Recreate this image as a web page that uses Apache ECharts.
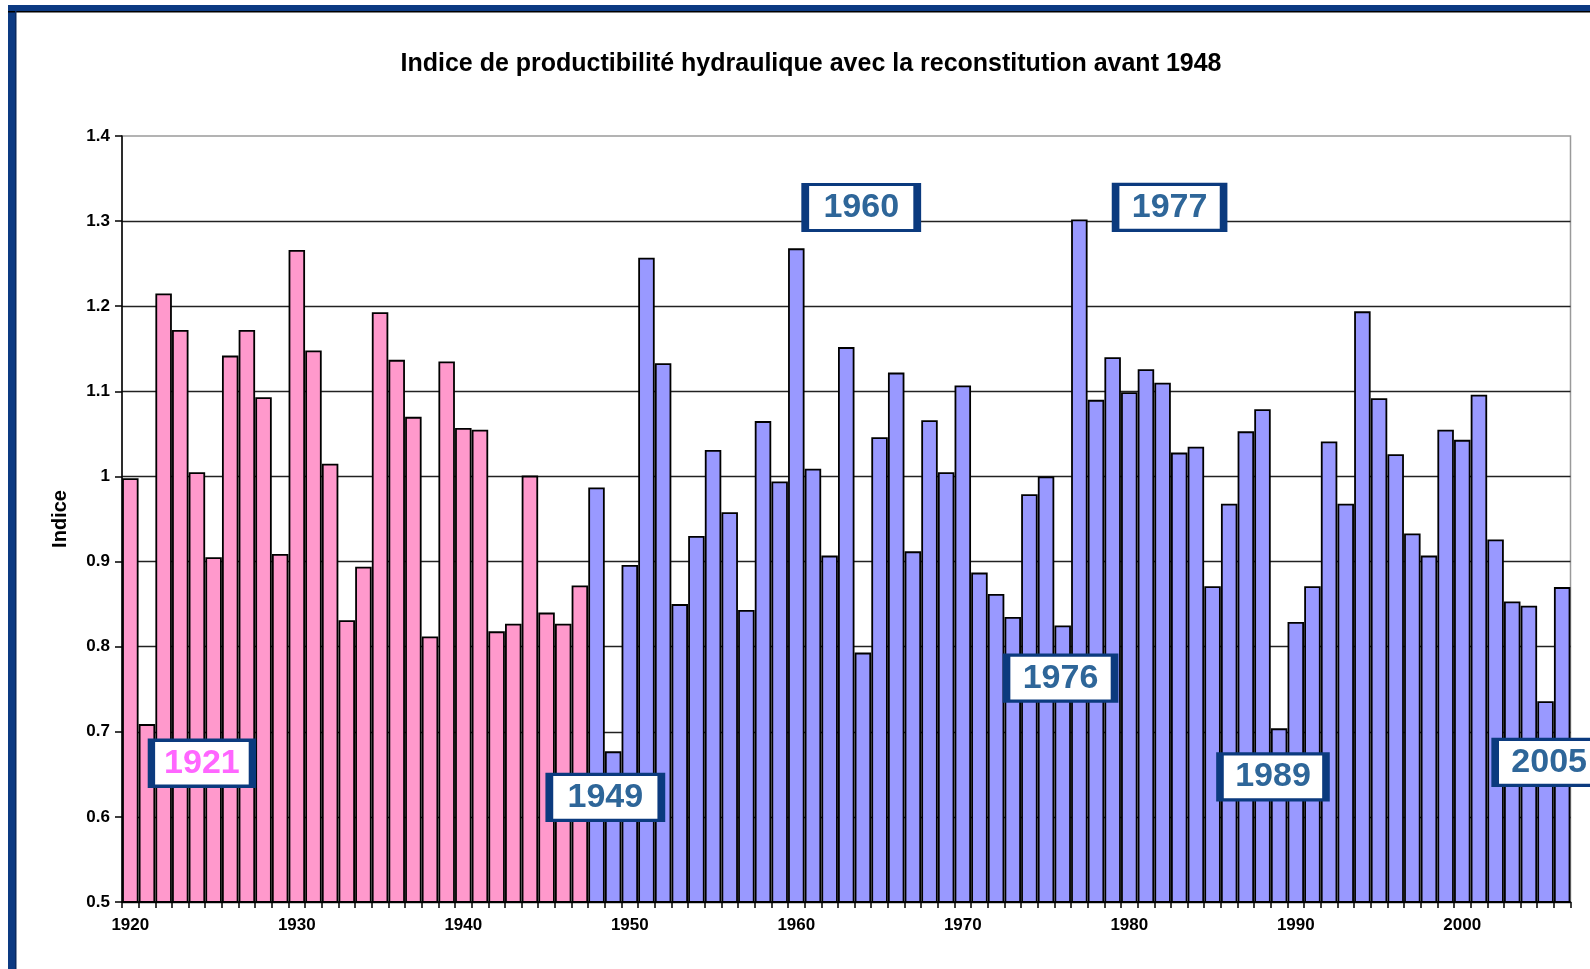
<!DOCTYPE html>
<html>
<head>
<meta charset="utf-8">
<title>Indice de productibilité hydraulique</title>
<script src="https://cdn.jsdelivr.net/npm/echarts@6/dist/echarts.min.js"></script>
<style>
html,body{margin:0;padding:0;background:#fff;}
#main{width:1590px;height:969px;}
</style>
</head>
<body>
<div id="main"></div>
<script>
// années 1920 - 2006
var years=[];
for(var y=1920;y<=2006;y++){ years.push(String(y)); }

// indice reconstitué avant 1948 (1920 - 1947)
var reconValues=[0.998,0.709,1.215,1.172,1.005,0.905,1.142,1.172,1.093,0.909,
	1.266,1.148,1.015,0.831,0.894,1.193,1.137,1.070,0.812,1.135,
	1.057,1.055,0.818,0.827,1.001,0.840,0.827,0.872];

// indice mesuré (1948 - 2006)
var measuredValues=[0.987,0.677,0.896,1.257,1.133,0.850,0.930,1.031,0.958,0.843,
	1.065,0.994,1.268,1.009,0.907,1.152,0.793,1.046,1.122,0.912,
	1.066,1.005,1.107,0.887,0.862,0.835,0.979,1.000,0.825,1.302,
	1.090,1.140,1.099,1.126,1.110,1.028,1.035,0.871,0.968,1.053,
	1.079,0.704,0.829,0.871,1.041,0.968,1.194,1.092,1.026,0.933,
	0.907,1.055,1.043,1.096,0.926,0.853,0.848,0.736,0.870];

// étiquettes des années remarquables (position du centre en année / indice)
var annoText=["1921","1949","1960","1977","1976","1989","2005"];
var annoX=[1924.3,1948.53,1963.9,1982.42,1975.87,1988.63,2005.22];
var annoY=[0.663,0.623,1.316,1.316,0.763,0.647,0.664];
var annoBoxW=[101,112,112,108,108,106,108];
var annoColor=["#FF66FF","#2E6699","#2E6699","#2E6699","#2E6699","#2E6699","#2E6699"];

var FONT="'Liberation Sans', Arial, sans-serif";

// séries alignées sur les catégories
var pinkData=[],blueData=[];
for(var i=0;i<years.length;i++){
	if(i<reconValues.length){
		pinkData.push(reconValues[i]);
		blueData.push('-');
	}
	else{
		pinkData.push('-');
		blueData.push(measuredValues[i-reconValues.length]);
	}
}

var annoData=[];
for(var k=0;k<annoText.length;k++){
	annoData.push({
		name:annoText[k],
		value:[annoX[k],annoY[k]],
		symbolSize:[annoBoxW[k],46],
		label:{color:annoColor[k]}
	});
}

var myChart=echarts.init(document.getElementById('main'));

var option={
	backgroundColor:'#fff',
	animation:false,
	title:{
		text:'Indice de productibilité hydraulique avec la reconstitution avant 1948',
		left:806,
		top:47,
		textAlign:'center',
		textStyle:{fontFamily:FONT,fontSize:25,fontWeight:'bold',color:'#000'}
	},
	graphic:[
		{type:'rect',shape:{x:8,y:5,width:1590,height:7},style:{fill:'#0C3A82'},z:100},
		{type:'rect',shape:{x:8,y:11,width:1590,height:1.5},style:{fill:'#000'},z:101},
		{type:'rect',shape:{x:8,y:5,width:8,height:970},style:{fill:'#0C3A82'},z:100},
		{type:'rect',shape:{x:15,y:11,width:1.5,height:970},style:{fill:'#0A2A60'},z:101}
	],
	grid:{
		left:122,top:136,right:19.5,bottom:67,
		show:true,borderColor:'#9A9A9A',borderWidth:1.5
	},
	xAxis:[{
		type:'category',
		data:years,
		boundaryGap:true,
		axisLine:{lineStyle:{color:'#000',width:1.5}},
		axisTick:{show:true,interval:0,length:6,lineStyle:{color:'#000',width:1.5}},
		axisLabel:{
			interval:function(index,value){ return Number(value)%10===0; },
			fontFamily:FONT,fontSize:17,fontWeight:'bold',color:'#000',margin:15
		},
		splitLine:{show:false}
	},{
		type:'value',
		min:1919.5,max:2006.5,
		show:false
	}],
	yAxis:{
		type:'value',
		min:0.5,max:1.4,interval:0.1,
		name:'Indice',
		nameLocation:'middle',
		nameGap:52,
		nameTextStyle:{fontFamily:FONT,fontSize:20,fontWeight:'bold',color:'#000'},
		axisLine:{show:true,lineStyle:{color:'#000',width:1.5}},
		axisTick:{show:true,length:7,lineStyle:{color:'#000',width:1.5}},
		axisLabel:{fontFamily:FONT,fontSize:17,fontWeight:'bold',color:'#000',margin:12,
			formatter:function(v){ return String(Math.round(v*10)/10); }},
		splitLine:{show:true,showMaxLine:false,lineStyle:{color:'#222',width:1.3}}
	},
	series:[{
		name:'reconstitution',
		type:'bar',
		data:pinkData,
		barGap:'-100%',
		barCategoryGap:'1%',
		itemStyle:{color:'#FF99CC',borderColor:'#000',borderWidth:1.8}
	},{
		name:'mesure',
		type:'bar',
		data:blueData,
		barGap:'-100%',
		barCategoryGap:'1%',
		itemStyle:{color:'#9999FF',borderColor:'#000',borderWidth:1.8}
	},{
		name:'annees',
		type:'scatter',
		xAxisIndex:1,
		clip:false,
		symbol:'rect',
		z:10,
		itemStyle:{color:'#fff',borderColor:'#0B3A7E',borderWidth:5,opacity:1},
		label:{
			show:true,position:'inside',
			formatter:'{b}',
			fontFamily:FONT,fontSize:34,fontWeight:'bold'
		},
		emphasis:{disabled:true},
		data:annoData
	}]
};

myChart.setOption(option);
</script>
</body>
</html>
